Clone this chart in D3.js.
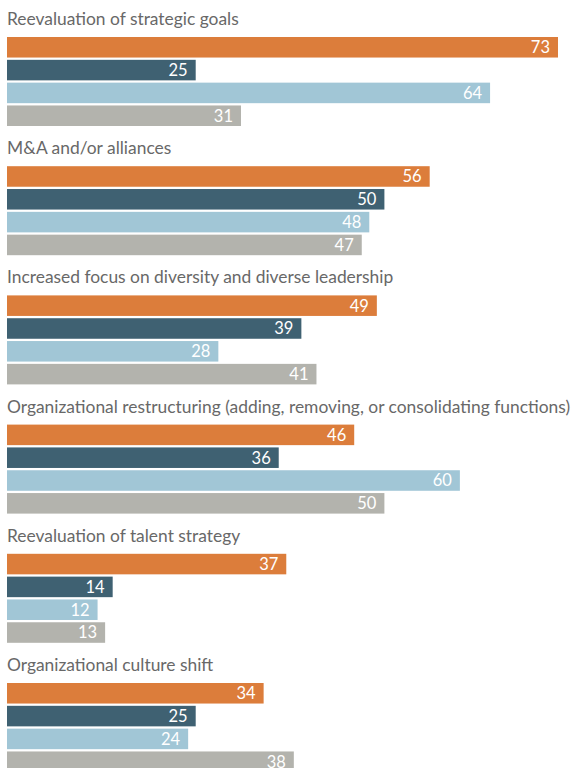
<!DOCTYPE html>
<html>
<head>
<meta charset="utf-8">
<script src="https://cdn.jsdelivr.net/npm/d3@7"></script>
<style>
  html, body { margin: 0; padding: 0; background: #fff; }
  svg { display: block; }
</style>
</head>
<body>
<svg id="chart" width="577" height="768"></svg>
<script>
// Categories (one group of four bars each)
const categories = [
  "Reevaluation of strategic goals",
  "M&A and/or alliances",
  "Increased focus on diversity and diverse leadership",
  "Organizational restructuring (adding, removing, or consolidating functions)",
  "Reevaluation of talent strategy",
  "Organizational culture shift"
];

// Four series, one value per category
const seriesOrange = [73, 56, 49, 46, 37, 34];
const seriesNavy   = [25, 50, 39, 36, 14, 25];
const seriesSky    = [64, 48, 28, 60, 12, 24];
const seriesGray   = [31, 47, 41, 50, 13, 38];

const seriesList = [seriesOrange, seriesNavy, seriesSky, seriesGray];
const seriesColors = ["#dc7d3b", "#3f6172", "#a1c6d6", "#b3b3ad"];

const svg = d3.select("#chart");
const left = 7;

// 73 units spans 7 → 558
const x = d3.scaleLinear().domain([0, 73]).range([left, 558]);

// Groups laid out top to bottom
const groupY = d3.scaleBand()
  .domain(d3.range(categories.length))
  .range([37, 37 + 129.2 * categories.length])
  .paddingInner(0).paddingOuter(0);

// Bars within a group
const barY = d3.scaleBand()
  .domain(d3.range(seriesList.length))
  .range([0, 89])
  .paddingInner(0.1).paddingOuter(0);

const groups = svg.selectAll("g.group")
  .data(categories)
  .join("g")
  .attr("class", "group")
  .attr("transform", (d, i) => `translate(0,${groupY(i)})`);

groups.append("text")
  .attr("x", left)
  .attr("y", -12)
  .attr("fill", "#686868")
  .style("font-family", "Lato, 'Open Sans', sans-serif")
  .style("font-size", "17.4px")
  .text(d => d);

groups.each(function(cat, gi) {
  const g = d3.select(this);
  const rows = seriesList.map((s, si) => ({ si, v: s[gi] }));

  g.selectAll("rect")
    .data(rows)
    .join("rect")
    .attr("x", x(0))
    .attr("y", d => barY(d.si))
    .attr("width", d => x(d.v) - x(0))
    .attr("height", barY.bandwidth())
    .attr("fill", d => seriesColors[d.si]);

  g.selectAll("text.val")
    .data(rows)
    .join("text")
    .attr("class", "val")
    .attr("x", d => x(d.v) - 8)
    .attr("y", d => barY(d.si) + barY.bandwidth() / 2)
    .attr("dy", "0.36em")
    .attr("text-anchor", "end")
    .attr("fill", "#ffffff")
    .style("font-family", "Lato, 'Open Sans', sans-serif")
    .style("font-size", "16.5px")
    .text(d => d.v);
});
</script>
</body>
</html>
